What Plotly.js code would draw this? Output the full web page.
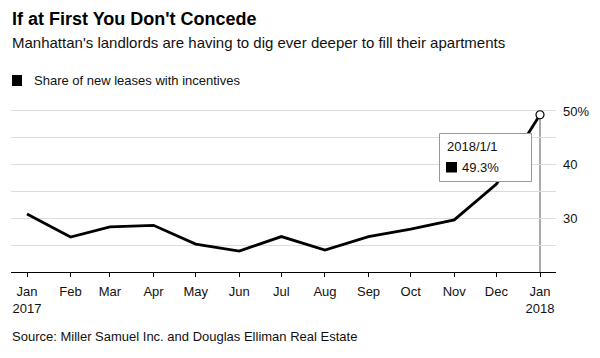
<!DOCTYPE html>
<html>
<head>
<meta charset="utf-8">
<script src="https://cdn.plot.ly/plotly-3.0.1.min.js"></script>
<style>html,body{margin:0;padding:0;background:#fff;}#chart{width:600px;height:358px;}</style>
</head>
<body>
<div id="chart"></div>
<script>
// ---- data ----
const dates = ['2017-01-01','2017-02-01','2017-03-01','2017-04-01','2017-05-01','2017-06-01','2017-07-01','2017-08-01','2017-09-01','2017-10-01','2017-11-01','2017-12-01','2018-01-01'];
const shareWithIncentives = [30.8, 26.5, 28.4, 28.7, 25.2, 23.9, 26.6, 24.1, 26.6, 28.0, 29.7, 36.4, 49.3];
const xTickText = ['Jan<br>2017','Feb','Mar','Apr','May','Jun','Jul','Aug','Sep','Oct','Nov','Dec','Jan<br>2018'];
const yTickVals = [25, 30, 35, 40, 45, 50];
const yTickText = ['', '30', '', '40', '', '50%'];
const seriesName = 'Share of new leases with incentives';
const titleText = "If at First You Don't Concede";
const subtitleText = "Manhattan's landlords are having to dig ever deeper to fill their apartments";
const sourceText = 'Source: Miller Samuel Inc. and Douglas Elliman Real Estate';

// ---- layout helpers ----
const W = 600, H = 358;
const M = {l: 11, r: 44, t: 100, b: 86};
const PW = W - M.l - M.r, PH = H - M.t - M.b;
const px = x => (x - M.l) / PW;
const py = y => (H - M.b - y) / PH;
const FONT = 'Liberation Sans, Arial, Helvetica, sans-serif';

const lastIdx = dates.length - 1;
const lastDate = dates[lastIdx];
const lastVal = shareWithIncentives[lastIdx];
const d = new Date(lastDate + 'T00:00:00');
const hoverDate = d.getFullYear() + '/' + (d.getMonth() + 1) + '/' + d.getDate();

const traces = [
  {x: dates, y: shareWithIncentives, type: 'scatter', mode: 'lines', name: seriesName,
   line: {color: '#000', width: 2.8}, hoverinfo: 'skip', showlegend: false},
  {x: [lastDate], y: [lastVal], type: 'scatter', mode: 'markers', showlegend: false, hoverinfo: 'skip',
   marker: {color: '#fff', size: 8, line: {color: '#000', width: 1.2}}}
];

const layout = {
  width: W, height: H, margin: M,
  paper_bgcolor: '#fff', plot_bgcolor: '#fff',
  font: {family: FONT, size: 13, color: '#111'},
  showlegend: false,
  xaxis: {type: 'date', range: ['2016-12-20 14:47', '2018-01-12 09:13'],
    tickvals: dates, ticktext: xTickText, ticks: 'outside', ticklen: 4, tickcolor: '#000', tickwidth: 1,
    ticklabelstandoff: 3,
    showline: true, linecolor: '#000', linewidth: 1, showgrid: false, zeroline: false,
    tickfont: {size: 13, color: '#111'}, fixedrange: true},
  yaxis: {range: [20, 20 + PH / 5.367], side: 'right', tickvals: yTickVals, ticktext: yTickText,
    showgrid: true, gridcolor: '#dcdcdc', gridwidth: 1, zeroline: false, showline: false, ticks: '',
    ticklabelstandoff: 6, tickfont: {size: 13, color: '#111'}, fixedrange: true},
  shapes: [
    {type: 'line', xref: 'x', yref: 'y', x0: lastDate, x1: lastDate, y0: 20, y1: lastVal,
     line: {color: '#555', width: 1}, layer: 'below'},
    {type: 'rect', xref: 'paper', yref: 'paper', x0: px(439.5), x1: px(531.5), y0: py(181.5), y1: py(133.5),
     fillcolor: '#fff', line: {color: '#999', width: 1}, layer: 'above'},
    {type: 'rect', xref: 'paper', yref: 'paper', x0: px(446), x1: px(457), y0: py(172.5), y1: py(162),
     fillcolor: '#000', line: {width: 0}, layer: 'above'},
    {type: 'rect', xref: 'paper', yref: 'paper', x0: px(12), x1: px(22), y0: py(86), y1: py(75),
     fillcolor: '#000', line: {width: 0}, layer: 'above'}
  ],
  annotations: [
    {text: '<b>' + titleText + '</b>', xref: 'paper', yref: 'paper', x: px(10), y: py(18.5), xanchor: 'left', yanchor: 'middle',
     showarrow: false, font: {family: FONT, size: 18, color: '#000'}},
    {text: subtitleText, xref: 'paper', yref: 'paper', x: px(10), y: py(42.5), xanchor: 'left', yanchor: 'middle',
     showarrow: false, font: {size: 15, color: '#111'}},
    {text: seriesName, xref: 'paper', yref: 'paper', x: px(32), y: py(80.5), xanchor: 'left', yanchor: 'middle',
     showarrow: false, font: {size: 13, color: '#111'}},
    {text: sourceText, xref: 'paper', yref: 'paper', x: px(10), y: py(336), xanchor: 'left', yanchor: 'middle',
     showarrow: false, font: {size: 13, color: '#111'}},
    {text: hoverDate, xref: 'paper', yref: 'paper', x: px(445), y: py(146.5), xanchor: 'left', yanchor: 'middle',
     showarrow: false, font: {size: 13, color: '#111'}},
    {text: lastVal.toFixed(1) + '%', xref: 'paper', yref: 'paper', x: px(460), y: py(167.5), xanchor: 'left', yanchor: 'middle',
     showarrow: false, font: {size: 13, color: '#111'}}
  ]
};

Plotly.newPlot('chart', traces, layout, {displayModeBar: false, staticPlot: true});
</script>
</body>
</html>
